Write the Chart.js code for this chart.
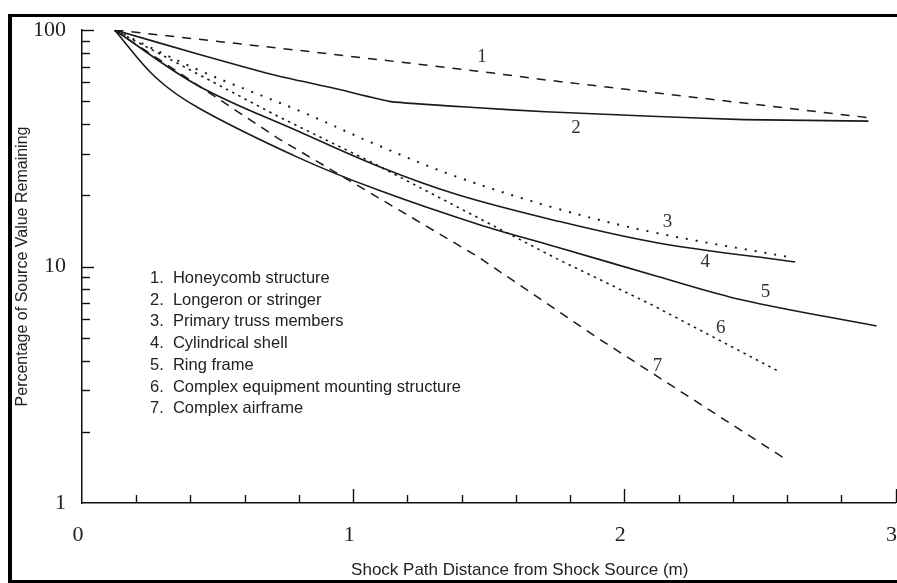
<!DOCTYPE html>
<html>
<head>
<meta charset="utf-8">
<script src="https://cdn.jsdelivr.net/npm/chart.js@4.4.1/dist/chart.umd.min.js"></script>
<style>
    html, body { margin: 0; padding: 0; background: #fff; overflow: hidden; width: 897px; height: 583px; }
    #wrap { position: relative; width: 897px; height: 583px; overflow: hidden; }
    #frame { position: absolute; left: 8px; top: 14px; width: 1000px; height: 563px;
        border-top: 3px solid #000; border-left: 4px solid #000; border-bottom: 3px solid #000; pointer-events: none; }
    #legend { position: absolute; left: 150px; top: 267px; font: 16.5px "Liberation Sans", Arial, sans-serif;
        line-height: 21.7px; color: #222; white-space: pre; }
</style>
</head>
<body>
<div id="wrap">
    <canvas id="chart-shock" width="920" height="583"></canvas>
    <div id="frame"></div>
    <div id="legend"></div>
</div>
<script>
// curve 1 - honeycomb structure (dashed)
const honeycombX = [0.12, 0.80, 1.46, 1.71, 2.90];
const honeycombY = [100, 82, 67, 61.5, 42.6];
// curve 2 - longeron or stringer (solid, bends near 1.15 m)
const longeronX = [0.12, 0.43, 0.72, 0.95, 1.14, 1.46, 1.71, 2.10, 2.44, 2.90];
const longeronY = [100, 79, 64, 56, 49.8, 46.9, 45.1, 43.2, 41.8, 41.2];
// curve 3 - primary truss members (dotted)
const trussX = [0.12, 0.43, 0.80, 1.09, 1.38, 1.75, 2.10, 2.62];
const trussY = [100, 67.7, 45.6, 32.6, 24.0, 17.6, 14.0, 10.9];
// curve 4 - cylindrical shell (solid)
const shellX = [0.12, 0.43, 0.80, 1.09, 1.38, 1.74, 2.12, 2.63];
const shellY = [100, 58, 37.2, 26.6, 20.2, 15.7, 12.6, 10.45];
// curve 5 - ring frame (solid)
const ringX = [0.12, 0.27, 0.43, 0.80, 1.09, 1.46, 1.75, 2.12, 2.44, 2.93];
const ringY = [100, 63.3, 46.8, 28.8, 21.1, 15.1, 12.1, 9.1, 7.2, 5.6];
// curve 6 - complex equipment mounting structure (fine dots)
const mountX = [0.12, 0.72, 1.07, 1.37, 1.75, 2.10, 2.57];
const mountY = [100, 43.3, 27.5, 18.2, 10.8, 6.9, 3.6];
// curve 7 - complex airframe (dashed)
const airframeX = [0.12, 0.72, 1.46, 1.90, 2.60];
const airframeY = [100, 35, 11, 5.0, 1.52];

const curveNames = ['1', '2', '3', '4', '5', '6', '7'];
const curveLabelX = [1.475, 1.822, 2.159, 2.298, 2.521, 2.356, 2.122];
const curveLabelY = [76.9, 38.5, 15.4, 10.4, 7.8, 5.5, 3.8];

const legendItems = [
    '1.  Honeycomb structure',
    '2.  Longeron or stringer',
    '3.  Primary truss members',
    '4.  Cylindrical shell',
    '5.  Ring frame',
    '6.  Complex equipment mounting structure',
    '7.  Complex airframe'
];

const xTitle = 'Shock Path Distance from Shock Source (m)';
const yTitle = 'Percentage of Source Value Remaining';
const xTickLabels = [0, 1, 2, 3];
const yTickLabels = [1, 10, 100];
const xMinorTicks = [0.2, 0.4, 0.6, 0.8, 1, 1.2, 1.4, 1.6, 1.8, 2, 2.2, 2.4, 2.6, 2.8, 3];
const yMinorTicks = [2, 3, 4, 5, 6, 7, 8, 9, 10, 20, 30, 40, 50, 60, 70, 80, 90, 100];

const serif = '"Liberation Serif", "Times New Roman", serif';
const sans = '"Liberation Sans", Arial, sans-serif';
const ink = '#1a1a1a';

function pts(xs, ys) {
    return xs.map((x, i) => ({ x, y: ys[i] }));
}

function curve(xs, ys, dash, width, tension) {
    return {
        data: pts(xs, ys),
        borderColor: ink,
        borderWidth: width,
        borderDash: dash,
        pointRadius: 0,
        fill: false,
        tension: tension
    };
}

// ticks point into the plot, so they are drawn here from the scales
const inwardTicks = {
    id: 'inwardTicks',
    afterDatasetsDraw(chart) {
        const { ctx, chartArea, scales: { x, y } } = chart;
        const x0 = x.getPixelForValue(0);
        const y0 = y.getPixelForValue(1);
        ctx.save();
        ctx.strokeStyle = '#111';
        ctx.lineWidth = 1.4;
        yMinorTicks.forEach((v) => {
            const py = Math.round(y.getPixelForValue(v)) + 0.5;
            const len = yTickLabels.includes(v) ? 12 : 8;
            ctx.beginPath();
            ctx.moveTo(x0, py);
            ctx.lineTo(x0 + len, py);
            ctx.stroke();
        });
        xMinorTicks.forEach((v) => {
            const px = Math.round(x.getPixelForValue(v)) + 0.5;
            const len = xTickLabels.includes(v) ? 14 : 8;
            ctx.beginPath();
            ctx.moveTo(px, y0);
            ctx.lineTo(px, y0 - len);
            ctx.stroke();
        });

        ctx.fillStyle = '#333';
        ctx.font = '19px ' + serif;
        ctx.textAlign = 'center';
        ctx.textBaseline = 'middle';
        curveNames.forEach((t, i) => {
            ctx.fillText(t, x.getPixelForValue(curveLabelX[i]), y.getPixelForValue(curveLabelY[i]));
        });

        // x title sits a bit right of the plot centre in the source figure
        ctx.fillStyle = '#222';
        ctx.font = '17px ' + sans;
        ctx.fillText(xTitle, (chartArea.left + chartArea.right) / 2 + 31, 570);
        ctx.restore();
    }
};

document.getElementById('legend').textContent = legendItems.join('\n');

const shockChart = new Chart(document.getElementById('chart-shock'), {
    type: 'line',
    data: {
        datasets: [
            curve(honeycombX, honeycombY, [9, 8], 1.5, 0),
            curve(longeronX, longeronY, [], 1.6, 0.15),
            curve(trussX, trussY, [2, 8], 2, 0.35),
            curve(shellX, shellY, [], 1.6, 0.35),
            curve(ringX, ringY, [], 1.6, 0.35),
            curve(mountX, mountY, [2.5, 4.5], 1.6, 0),
            curve(airframeX, airframeY, [9, 7], 1.5, 0)
        ]
    },
    options: {
        responsive: false,
        animation: false,
        layout: { padding: { top: 30, right: 20, bottom: 0, left: 0 } },
        plugins: { legend: { display: false }, tooltip: { enabled: false } },
        scales: {
            x: {
                type: 'linear',
                min: 0,
                max: 3,
                afterFit(s) { s.height = 80; },
                grid: { display: false, drawTicks: false },
                border: { display: true, color: '#111', width: 1.5 },
                ticks: {
                    stepSize: 1,
                    padding: 19,
                    labelOffset: -4,
                    maxRotation: 0,
                    color: '#222',
                    font: { family: serif, size: 22 },
                    callback: (v) => xTickLabels.includes(v) ? String(v) : ''
                },
                title: { display: false }
            },
            y: {
                type: 'logarithmic',
                min: 1,
                max: 100,
                afterFit(s) { s.width = 82; },
                grid: { display: false, drawTicks: false },
                border: { display: true, color: '#111', width: 1.5 },
                ticks: {
                    autoSkip: false,
                    padding: 16,
                    color: '#222',
                    font: { family: serif, size: 22 },
                    callback: (v) => yTickLabels.includes(v) ? String(v) : ''
                },
                title: {
                    display: true,
                    text: yTitle,
                    color: '#222',
                    font: { family: sans, size: 16 },
                    padding: { top: 13, bottom: 0 }
                }
            }
        }
    },
    plugins: [inwardTicks]
});
</script>
</body>
</html>
